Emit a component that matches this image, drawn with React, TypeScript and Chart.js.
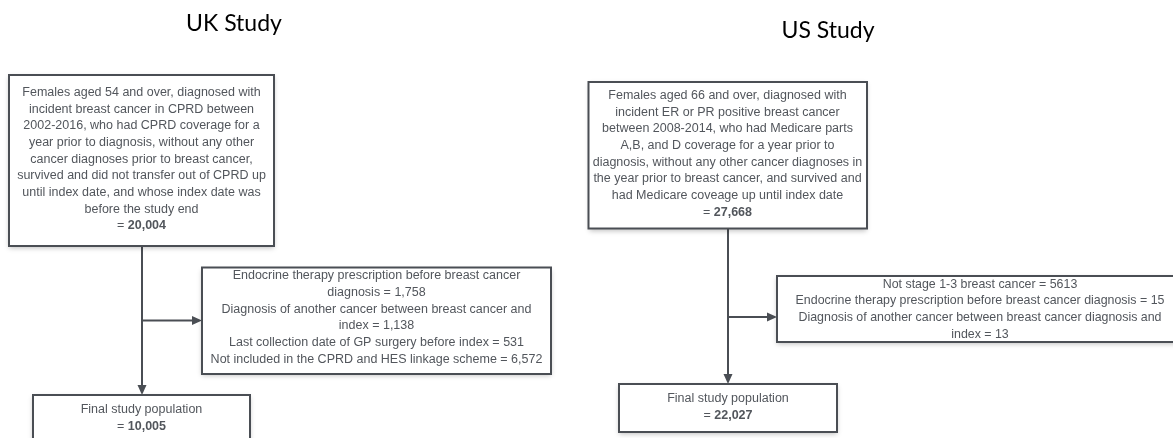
import React, { useEffect, useRef } from "react";
import { Chart, registerables } from "chart.js";

Chart.register(...registerables);

// ---- Data (texts and counts) ----
const studyTitles = ["UK Study", "US Study"];

const ukInclusionLines = [
  "Females aged 54 and over, diagnosed with",
  "incident breast cancer in CPRD between",
  "2002-2016, who had CPRD coverage for a",
  "year prior to diagnosis, without any other",
  "cancer diagnoses prior to breast cancer,",
  "survived and did not transfer out of CPRD up",
  "until index date, and whose index date was",
  "before the study end",
];
const ukInclusionCount = "20,004";

const ukExclusionLines = [
  "Endocrine therapy prescription before breast cancer",
  "diagnosis = 1,758",
  "Diagnosis of another cancer between breast cancer and",
  "index = 1,138",
  "Last collection date of GP surgery before index = 531",
  "Not included in the CPRD and HES linkage scheme = 6,572",
];

const ukFinalLines = ["Final study population"];
const ukFinalCount = "10,005";

const usInclusionLines = [
  "Females aged 66 and over, diagnosed with",
  "incident ER or PR positive breast cancer",
  "between 2008-2014, who had Medicare parts",
  "A,B, and D coverage for a year prior to",
  "diagnosis, without any other cancer diagnoses in",
  "the year prior to breast cancer, and survived and",
  "had Medicare coveage up until index date",
];
const usInclusionCount = "27,668";

const usExclusionLines = [
  "Not stage 1-3 breast cancer = 5613",
  "Endocrine therapy prescription before breast cancer diagnosis = 15",
  "Diagnosis of another cancer between breast cancer diagnosis and",
  "index = 13",
];

const usFinalLines = ["Final study population"];
const usFinalCount = "22,027";

// ---- Layout (in scale units == pixels of the 1173x438 frame) ----
type Box = { x0: number; y0: number; x1: number; y1: number; lines: string[]; count?: string; firstY: number; cx: number; size: number };

const W = 1173;
const H = 438;
const LINE = 16.65;

const boxes: Box[] = [
  { x0: 9, y0: 75, x1: 274, y1: 246, lines: ukInclusionLines, count: ukInclusionCount, firstY: 92.7, cx: 141.5, size: 12.5 },
  { x0: 202, y0: 267.5, x1: 551, y1: 374, lines: ukExclusionLines, firstY: 276, cx: 376.5, size: 12.5 },
  { x0: 33, y0: 395, x1: 250, y1: 450, lines: ukFinalLines, count: ukFinalCount, firstY: 410, cx: 141.5, size: 12.5 },
  { x0: 588.5, y0: 82, x1: 867, y1: 228.5, lines: usInclusionLines, count: usInclusionCount, firstY: 95.7, cx: 727.5, size: 12.5 },
  { x0: 777, y0: 276, x1: 1184, y1: 342, lines: usExclusionLines, firstY: 284.3, cx: 980, size: 12.4 },
  { x0: 619, y0: 384, x1: 837, y1: 432, lines: usFinalLines, count: usFinalCount, firstY: 399, cx: 728, size: 12.5 },
];

const titlePos = [
  { x: 234, y: 24 },
  { x: 828, y: 31 },
];

const connectors = [
  { vx: 142, vy0: 246, vy1: 395, ay: 320.5, ax1: 202 },
  { vx: 728, vy0: 228.5, vy1: 384, ay: 317, ax1: 777 },
];

const TEXT = "#52565c";
const EDGE = "#4a4e54";
const FONT = '"Liberation Sans", Arial, sans-serif';

const flowPlugin = {
  id: "flow",
  afterDraw(chart: any) {
    const ctx: CanvasRenderingContext2D = chart.ctx;
    const xs = chart.scales.x;
    const ys = chart.scales.y;
    const px = (v: number) => xs.getPixelForValue(v);
    const py = (v: number) => ys.getPixelForValue(v);

    ctx.save();
    // titles
    ctx.fillStyle = "#000";
    ctx.font = '23px Lato, "Open Sans", sans-serif';
    ctx.textAlign = "center";
    ctx.textBaseline = "middle";
    studyTitles.forEach((t, i) => ctx.fillText(t, px(titlePos[i].x), py(titlePos[i].y)));

    // connectors
    ctx.strokeStyle = EDGE;
    ctx.fillStyle = EDGE;
    ctx.lineWidth = 2;
    connectors.forEach((c) => {
      const x = px(c.vx);
      ctx.beginPath();
      ctx.moveTo(x, py(c.vy0));
      ctx.lineTo(x, py(c.vy1) - 8);
      ctx.stroke();
      ctx.beginPath();
      ctx.moveTo(x - 4.5, py(c.vy1) - 10);
      ctx.lineTo(x + 4.5, py(c.vy1) - 10);
      ctx.lineTo(x, py(c.vy1));
      ctx.closePath();
      ctx.fill();
      const y = py(c.ay);
      ctx.beginPath();
      ctx.moveTo(x, y);
      ctx.lineTo(px(c.ax1) - 8, y);
      ctx.stroke();
      ctx.beginPath();
      ctx.moveTo(px(c.ax1) - 10, y - 4.5);
      ctx.lineTo(px(c.ax1) - 10, y + 4.5);
      ctx.lineTo(px(c.ax1), y);
      ctx.closePath();
      ctx.fill();
    });

    // boxes
    boxes.forEach((b) => {
      const x0 = px(b.x0), x1 = px(b.x1), y0 = py(b.y0), y1 = py(b.y1);
      ctx.save();
      ctx.shadowColor = "rgba(0,0,0,0.25)";
      ctx.shadowBlur = 5;
      ctx.shadowOffsetY = 2;
      ctx.fillStyle = "#fff";
      ctx.fillRect(x0, y0, x1 - x0, y1 - y0);
      ctx.restore();
      ctx.strokeStyle = EDGE;
      ctx.lineWidth = 2;
      ctx.strokeRect(x0, y0, x1 - x0, y1 - y0);

      const f = `${b.size}px ${FONT}`;
      const fb = `bold ${b.size}px ${FONT}`;
      ctx.fillStyle = TEXT;
      ctx.textBaseline = "middle";
      ctx.textAlign = "center";
      ctx.font = f;
      b.lines.forEach((l, i) => {
        ctx.fillText(l, px(b.cx), py(b.firstY + i * LINE));
      });
      if (b.count) {
        const y = py(b.firstY + b.lines.length * LINE);
        ctx.font = f;
        const pre = "= ";
        const wPre = ctx.measureText(pre).width;
        ctx.font = fb;
        const wNum = ctx.measureText(b.count).width;
        const start = px(b.cx) - (wPre + wNum) / 2;
        ctx.textAlign = "left";
        ctx.font = f;
        ctx.fillText(pre, start, y);
        ctx.font = fb;
        ctx.fillText(b.count, start + wPre, y);
      }
    });
    ctx.restore();
  },
};

export default function App() {
  const ref = useRef<HTMLCanvasElement | null>(null);
  useEffect(() => {
    document.body.style.margin = "0";
    if (!ref.current) return;
    const chart = new Chart(ref.current, {
      type: "scatter",
      data: { datasets: [{ data: [] }] },
      options: {
        animation: false,
        responsive: false,
        layout: { padding: 0 },
        plugins: { legend: { display: false }, tooltip: { enabled: false } },
        scales: {
          x: { type: "linear", min: 0, max: W, display: false },
          y: { type: "linear", min: 0, max: H, reverse: true, display: false },
        },
      },
      plugins: [flowPlugin],
    });
    return () => chart.destroy();
  }, []);
  return (
    <div style={{ width: W, height: H, background: "#fff" }}>
      <canvas ref={ref} width={W} height={H} style={{ width: W, height: H, display: "block" }} />
    </div>
  );
}
